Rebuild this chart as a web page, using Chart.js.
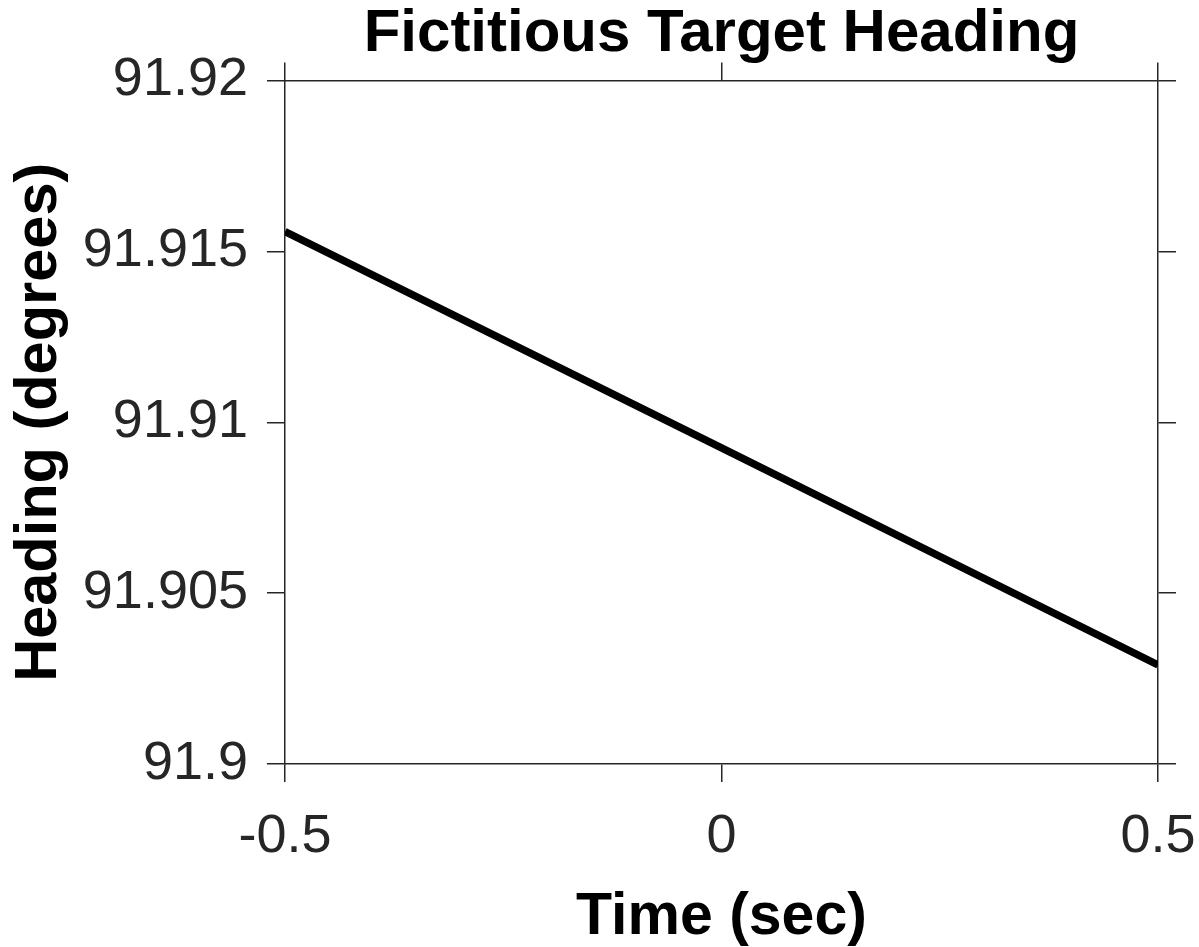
<!DOCTYPE html>
<html>
<head>
<meta charset="utf-8">
<script src="https://cdn.jsdelivr.net/npm/chart.js@4"></script>
<style>
html,body{margin:0;padding:0;background:#fff;}
#wrap{width:1199px;height:947px;position:relative;}
</style>
</head>
<body>
<div id="wrap"><canvas id="c"></canvas></div>
<script>
const timeValues = [-0.5, 0, 0.5];
const headingValues = [91.91558, 91.90925, 91.9029];
const xTicks = [-0.5, 0, 0.5];
const yTicks = [91.9, 91.905, 91.91, 91.915, 91.92];
const chartTitle = 'Fictitious Target Heading';
const xTitle = 'Time (sec)';
const yTitle = 'Heading (degrees)';

const axisColor = '#262626';
const FONT = "'Liberation Sans', Arial, Helvetica, sans-serif";

function fmt(v){ return String(Number(v.toFixed(4))); }

new Chart(document.getElementById('c'), {
  type: 'line',
  data: {
    datasets: [{
      data: timeValues.map((t, i) => ({x: t, y: headingValues[i]})),
      borderColor: '#000',
      borderWidth: 7.5,
      pointRadius: 0,
      tension: 0,
      fill: false
    }]
  },
  options: {
    responsive: true,
    maintainAspectRatio: false,
    animation: false,
    layout: {padding: 0},
    plugins: {
      legend: {display: false},
      tooltip: {enabled: false},
      title: {display: false}
    },
    scales: {
      x: {
        type: 'linear', position: 'bottom', min: -0.5, max: 0.5,
        afterBuildTicks: s => { s.ticks = xTicks.map(v => ({value: v})); },
        afterFit: s => { s.height = 183; s.paddingLeft = 0; s.paddingRight = 0; },
        grid: {display: true, drawOnChartArea: false, drawTicks: true, tickLength: 18, color: axisColor, lineWidth: 1.5},
        border: {display: true, color: axisColor, width: 1.5},
        ticks: {color: axisColor, padding: 23, maxRotation: 0, font: {family: FONT, size: 54}, callback: v => fmt(v)},
        title: {display: true, text: xTitle, color: '#000', font: {family: FONT, size: 59, weight: 'bold', lineHeight: 1.0}, padding: {top: 0, bottom: 0}}
      },
      x2: {
        type: 'linear', position: 'top', min: -0.5, max: 0.5,
        afterBuildTicks: s => { s.ticks = xTicks.map(v => ({value: v})); },
        afterFit: s => { s.height = 80.5; s.paddingLeft = 0; s.paddingRight = 0; },
        grid: {display: true, drawOnChartArea: false, drawTicks: true, tickLength: 18, color: axisColor, lineWidth: 1.5},
        border: {display: true, color: axisColor, width: 1.5},
        ticks: {display: false},
        title: {display: true, text: chartTitle, color: '#000', font: {family: FONT, size: 60, weight: 'bold', lineHeight: 1.0}, padding: {top: 4, bottom: 0}}
      },
      y: {
        type: 'linear', position: 'left', min: 91.9, max: 91.92,
        afterBuildTicks: s => { s.ticks = yTicks.map(v => ({value: v})); },
        afterFit: s => { s.width = 285; },
        grid: {display: true, drawOnChartArea: false, drawTicks: true, tickLength: 18, color: axisColor, lineWidth: 1.5},
        border: {display: true, color: axisColor, width: 1.5},
        ticks: {color: axisColor, padding: 19, font: {family: FONT, size: 54}, callback: v => fmt(v)},
        title: {display: true, text: yTitle, color: '#000', font: {family: FONT, size: 59.5, weight: 'bold', lineHeight: 1.2}, padding: {top: 4, bottom: 0}}
      },
      y2: {
        type: 'linear', position: 'right', min: 91.9, max: 91.92,
        afterBuildTicks: s => { s.ticks = yTicks.map(v => ({value: v})); },
        afterFit: s => { s.width = 41; },
        grid: {display: true, drawOnChartArea: false, drawTicks: true, tickLength: 18, color: axisColor, lineWidth: 1.5},
        border: {display: true, color: axisColor, width: 1.5},
        ticks: {display: false}
      }
    }
  }
});
</script>
</body>
</html>
